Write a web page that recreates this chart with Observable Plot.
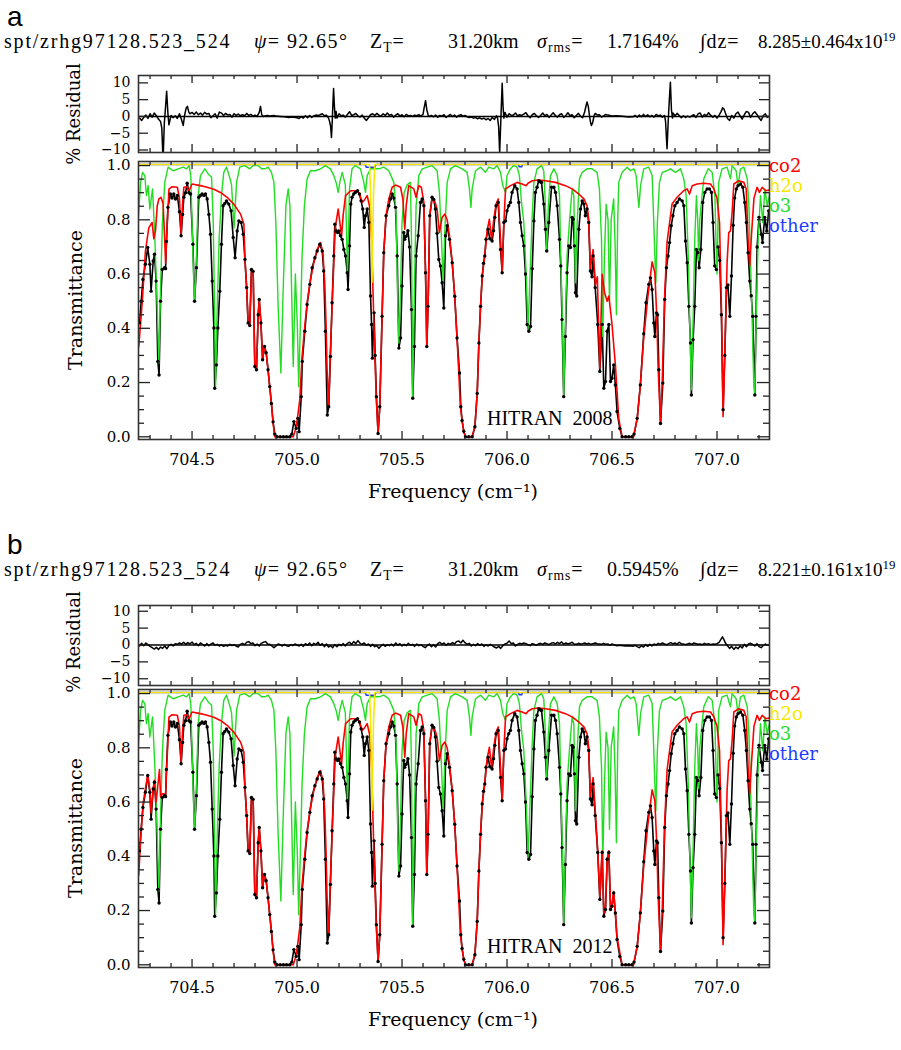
<!DOCTYPE html>
<html><head><meta charset="utf-8">
<script src="https://cdn.jsdelivr.net/npm/d3@7"></script>
<script src="https://cdn.jsdelivr.net/npm/@observablehq/plot@0.6"></script>
<style>
body{margin:0;background:#fff;}
#fig{position:relative;width:901px;height:1050px;overflow:hidden;background:#fff;}
.t{position:absolute;white-space:pre;line-height:1;color:#000;}
.t sub,.t sup{font-size:68%;position:relative;vertical-align:baseline;}
.t sub{top:0.3em;} .t sup{top:-0.55em;}
</style></head>
<body><div id="fig"></div>
<script>
// ---------- data ----------
const xMajor = [704.5, 705.0, 705.5, 706.0, 706.5, 707.0];
const xMinor = [704.3,704.4,704.6,704.7,704.8,704.9,705.1,705.2,705.3,705.4,705.6,705.7,705.8,705.9,706.1,706.2,706.3,706.4,706.6,706.7,706.8,706.9,707.1,707.2];
const tMajor = [0, 0.2, 0.4, 0.6, 0.8, 1.0];
const tMinor = [0.05,0.1,0.15,0.25,0.3,0.35,0.45,0.5,0.55,0.65,0.7,0.75,0.85,0.9,0.95];
const rMajor = [-10, -5, 0, 5, 10];
const legendNames = ["co2", "h2o", "o3", "other"];
const legendColors = ["#ff0000", "#f5e800", "#22dd22", "#1f3dff"];

// co2 transmittance (red)
const co2 = [[704.246,0.33],[704.263,0.50],[704.278,0.685],[704.294,0.77],[704.31,0.79],[704.318,0.73],[704.326,0.76],[704.334,0.85],[704.342,0.877],[704.352,0.883],[704.362,0.86],[704.368,0.76],[704.374,0.64],[704.38,0.75],[704.39,0.913],[704.405,0.922],[704.43,0.92],[704.44,0.88],[704.448,0.747],[704.455,0.86],[704.461,0.92],[704.476,0.922],[704.484,0.905],[704.5,0.932],[704.54,0.926],[704.572,0.92],[704.604,0.913],[704.635,0.901],[704.667,0.883],[704.699,0.858],[704.731,0.821],[704.747,0.784],[704.752,0.654],[704.76,0.55],[704.767,0.42],[704.775,0.41],[704.783,0.617],[704.791,0.61],[704.799,0.259],[704.807,0.247],[704.815,0.45],[704.82,0.506],[704.828,0.42],[704.836,0.284],[704.845,0.333],[704.853,0.31],[704.862,0.247],[704.87,0.185],[704.878,0.123],[704.886,0.049],[704.894,0.0],[704.982,0.0],[704.997,0.037],[705.013,0.136],[705.024,0.296],[705.036,0.40],[705.048,0.494],[705.064,0.58],[705.08,0.642],[705.096,0.691],[705.112,0.716],[705.123,0.679],[705.132,0.568],[705.138,0.42],[705.143,0.25],[705.151,0.111],[705.158,0.3],[705.167,0.481],[705.175,0.64],[705.182,0.77],[705.196,0.84],[705.204,0.79],[705.212,0.74],[705.22,0.82],[705.231,0.889],[705.255,0.907],[705.286,0.907],[705.298,0.895],[705.31,0.864],[705.318,0.87],[705.334,0.889],[705.345,0.852],[705.355,0.728],[705.366,0.42],[705.377,0.148],[705.386,0.012],[705.394,0.111],[705.405,0.444],[705.413,0.679],[705.424,0.815],[705.437,0.877],[705.453,0.92],[705.469,0.928],[705.493,0.92],[705.504,0.877],[705.513,0.765],[705.52,0.852],[705.532,0.926],[705.556,0.914],[705.567,0.883],[705.58,0.926],[705.592,0.92],[705.604,0.864],[705.612,0.605],[705.618,0.333],[705.624,0.481],[705.632,0.815],[705.643,0.877],[705.655,0.87],[705.667,0.84],[705.678,0.753],[705.691,0.809],[705.704,0.821],[705.715,0.80],[705.726,0.741],[705.739,0.642],[705.751,0.518],[705.762,0.364],[705.77,0.24],[705.778,0.111],[705.786,0.06],[705.794,0.02],[705.802,0.0],[705.834,0.0],[705.847,0.037],[705.858,0.16],[705.866,0.346],[705.874,0.481],[705.882,0.593],[705.894,0.667],[705.905,0.759],[705.916,0.802],[705.926,0.728],[705.937,0.802],[705.948,0.858],[705.958,0.877],[705.969,0.728],[705.977,0.605],[705.985,0.79],[705.993,0.914],[706.017,0.926],[706.048,0.938],[706.072,0.932],[706.091,0.926],[706.1,0.935],[706.12,0.944],[706.15,0.947],[706.183,0.944],[706.231,0.938],[706.278,0.926],[706.31,0.914],[706.342,0.895],[706.366,0.877],[706.381,0.852],[706.389,0.80],[706.397,0.62],[706.41,0.69],[706.421,0.56],[706.43,0.59],[706.442,0.253],[706.453,0.599],[706.465,0.53],[706.477,0.5],[706.485,0.519],[706.5,0.414],[706.516,0.265],[706.532,0.068],[706.548,0.0],[706.603,0.0],[706.62,0.068],[706.635,0.191],[706.651,0.364],[706.67,0.512],[706.691,0.645],[706.704,0.605],[706.713,0.444],[706.72,0.247],[706.731,0.049],[706.739,0.198],[706.75,0.506],[706.762,0.716],[706.77,0.765],[706.786,0.858],[706.81,0.883],[706.841,0.907],[706.858,0.914],[706.869,0.895],[706.882,0.926],[706.905,0.932],[706.937,0.935],[706.969,0.932],[706.985,0.914],[707.0,0.88],[707.012,0.79],[707.021,0.481],[707.029,0.074],[707.037,0.296],[707.048,0.642],[707.056,0.753],[707.064,0.759],[707.072,0.827],[707.08,0.932],[707.104,0.944],[707.128,0.938],[707.139,0.914],[707.148,0.728],[707.156,0.63],[707.164,0.741],[707.176,0.88],[707.191,0.92],[707.202,0.901],[707.215,0.92],[707.232,0.907],[707.25,0.91]];

// HITRAN 2012 co2 differs in these stretches
const co2PatchB = [[704.246,0.33],[704.258,0.50],[704.268,0.60],[704.278,0.65],[704.289,0.70],[704.299,0.645],[704.305,0.56],[704.315,0.65],[704.321,0.68],[704.329,0.60],[704.337,0.66],[704.345,0.72],[704.35,0.62],[704.358,0.63],[704.369,0.63],[704.374,0.62],[704.38,0.74],
  [706.432,0.42],[706.442,0.25],[706.453,0.42],[706.461,0.19],[706.469,0.21],[706.477,0.39],[706.485,0.42],[706.493,0.21],[706.5,0.22],[706.508,0.27],[706.516,0.19],[706.524,0.1]];

// o3 transmittance (green)
const o3 = [[704.243,0.79],[704.255,0.938],[704.264,0.975],[704.275,0.963],[704.283,0.889],[704.291,0.926],[704.299,0.84],[704.312,0.914],[704.323,0.728],[704.334,0.481],[704.342,0.272],[704.35,0.543],[704.359,0.79],[704.37,0.938],[704.386,0.994],[704.41,0.981],[704.434,0.988],[704.458,0.994],[704.474,0.988],[704.486,1.0],[704.494,0.963],[704.5,0.79],[704.509,0.543],[704.513,0.506],[704.521,0.667],[704.529,0.889],[704.54,0.963],[704.561,0.988],[704.577,0.969],[704.593,0.957],[704.601,0.79],[704.607,0.481],[704.612,0.185],[704.62,0.481],[704.629,0.728],[704.64,0.889],[704.651,0.975],[704.664,0.994],[704.677,0.963],[704.688,0.93],[704.7,0.77],[704.712,0.938],[704.727,0.994],[704.751,1.0],[704.775,0.988],[704.791,1.0],[704.815,1.0],[704.831,0.988],[704.847,0.988],[704.862,0.994],[704.878,0.975],[704.89,0.938],[704.899,0.79],[704.91,0.481],[704.923,0.235],[704.934,0.543],[704.947,0.852],[704.958,0.914],[704.966,0.852],[704.974,0.543],[704.982,0.259],[704.992,0.60],[705.001,0.42],[705.008,0.185],[705.016,0.42],[705.024,0.667],[705.035,0.852],[705.048,0.951],[705.064,0.981],[705.088,0.981],[705.112,0.988],[705.135,1.0],[705.159,0.988],[705.175,0.963],[705.186,0.938],[705.196,0.901],[705.204,0.94],[705.215,0.975],[705.23,0.93],[705.236,0.75],[705.24,0.605],[705.245,0.75],[705.25,0.914],[705.262,0.988],[705.278,1.0],[705.302,0.988],[705.318,0.938],[705.326,0.901],[705.334,0.963],[705.35,0.988],[705.39,0.988],[705.413,0.994],[705.437,0.981],[705.461,0.938],[705.472,0.815],[705.478,0.543],[705.485,0.346],[705.493,0.543],[705.5,0.79],[705.51,0.90],[705.525,0.93],[705.54,0.938],[705.545,0.728],[705.551,0.148],[705.559,0.543],[705.567,0.852],[705.58,0.963],[705.596,0.988],[705.62,0.994],[705.643,1.0],[705.667,0.981],[705.678,0.901],[705.688,0.728],[705.696,0.568],[705.704,0.765],[705.715,0.938],[705.731,0.988],[705.754,1.0],[705.786,0.988],[705.81,0.975],[705.821,0.914],[705.828,0.846],[705.834,0.914],[705.85,0.981],[705.874,0.994],[705.897,0.975],[705.913,0.994],[705.937,0.988],[705.953,1.0],[705.969,0.975],[705.98,0.926],[705.993,0.901],[706.0,0.963],[706.016,0.988],[706.032,1.0],[706.048,0.994],[706.059,0.963],[706.069,0.864],[706.08,0.79],[706.091,0.605],[706.1,0.395],[706.11,0.605],[706.12,0.815],[706.128,0.938],[706.143,0.988],[706.164,1.0],[706.175,0.981],[706.183,0.852],[706.189,0.691],[706.197,0.852],[706.207,0.963],[706.223,0.988],[706.239,0.963],[706.25,0.889],[706.256,0.667],[706.264,0.42],[706.27,0.148],[706.278,0.42],[706.286,0.667],[706.297,0.79],[706.31,0.914],[706.318,0.889],[706.326,0.568],[706.334,0.79],[706.345,0.951],[706.358,0.975],[706.381,0.988],[706.405,0.988],[706.429,0.975],[706.44,0.914],[706.45,0.728],[706.456,0.37],[706.464,0.667],[706.472,0.858],[706.481,0.80],[706.488,0.50],[706.496,0.80],[706.508,0.877],[706.515,0.70],[706.521,0.45],[706.527,0.79],[706.532,0.938],[706.548,0.975],[706.572,0.994],[706.588,0.981],[706.604,0.988],[706.615,0.963],[706.623,0.889],[706.628,0.846],[706.636,0.926],[706.651,0.988],[706.675,0.994],[706.691,0.963],[706.699,0.79],[706.704,0.667],[706.709,0.568],[706.716,0.79],[706.726,0.938],[706.739,0.975],[706.762,0.981],[706.778,0.988],[706.802,0.975],[706.826,0.988],[706.842,0.951],[706.853,0.889],[706.863,0.667],[706.87,0.42],[706.878,0.173],[706.886,0.42],[706.894,0.728],[706.902,0.889],[706.908,0.80],[706.913,0.65],[706.918,0.80],[706.924,0.852],[706.937,0.951],[706.958,0.988],[706.977,0.975],[706.99,0.889],[706.996,0.70],[707.0,0.60],[707.004,0.75],[707.008,0.938],[707.024,0.988],[707.048,0.994],[707.064,0.951],[707.072,1.0],[707.091,0.981],[707.1,0.926],[707.112,0.988],[707.128,0.994],[707.144,0.951],[707.152,0.852],[707.159,0.667],[707.167,0.444],[707.175,0.198],[707.18,0.16],[707.186,0.42],[707.196,0.728],[707.207,0.889],[707.218,0.79],[707.228,0.914],[707.239,0.852],[707.25,0.889]];

// h2o (yellow) and other (blue)
const h2o = [[704.245,1.004],[705.345,1.004],[705.351,0.89],[705.357,0.57],[705.364,0.89],[705.37,1.004],[707.25,1.004]];
const other = [[704.245,1.004],[705.325,1.004],[705.33,0.994],[705.37,0.994],[705.375,1.004],[706.055,1.004],[706.058,0.996],[706.07,0.996],[706.073,1.004],[707.25,1.004]];

// measured spectrum (black)
const obs = [[704.25,0.42],[704.258,0.5],[704.266,0.58],[704.278,0.636],[704.289,0.698],[704.299,0.636],[704.305,0.537],[704.315,0.648],[704.321,0.673],[704.329,0.574],[704.337,0.278],[704.343,0.228],[704.35,0.50],[704.358,0.617],[704.369,0.623],[704.374,0.62],[704.378,0.72],[704.385,0.846],[704.397,0.895],[704.405,0.88],[704.413,0.895],[704.421,0.877],[704.43,0.89],[704.44,0.83],[704.448,0.741],[704.455,0.82],[704.461,0.883],[704.469,0.90],[704.477,0.935],[704.485,0.90],[704.493,0.895],[704.504,0.71],[704.512,0.5],[704.521,0.623],[704.532,0.883],[704.54,0.89],[704.548,0.895],[704.556,0.89],[704.564,0.895],[704.572,0.877],[704.58,0.82],[704.588,0.747],[704.596,0.574],[704.604,0.401],[704.608,0.179],[704.616,0.265],[704.623,0.401],[704.632,0.537],[704.64,0.71],[704.648,0.852],[704.656,0.86],[704.664,0.87],[704.675,0.858],[704.686,0.833],[704.696,0.735],[704.705,0.66],[704.715,0.759],[704.723,0.796],[704.734,0.79],[704.744,0.747],[704.752,0.654],[704.76,0.55],[704.767,0.42],[704.775,0.41],[704.783,0.617],[704.791,0.61],[704.799,0.259],[704.807,0.247],[704.815,0.45],[704.82,0.506],[704.828,0.42],[704.836,0.284],[704.845,0.333],[704.853,0.31],[704.862,0.247],[704.87,0.185],[704.878,0.123],[704.886,0.055],[704.894,0.01],[704.905,0.0],[704.92,0.0],[704.935,0.0],[704.95,0.0],[704.965,0.0],[704.975,0.01],[704.985,0.056],[704.996,0.031],[705.004,0.068],[705.01,0.019],[705.02,0.148],[705.025,0.278],[705.037,0.389],[705.048,0.488],[705.061,0.562],[705.072,0.623],[705.085,0.66],[705.096,0.685],[705.108,0.71],[705.12,0.685],[705.127,0.611],[705.135,0.389],[705.144,0.08],[705.151,0.111],[705.159,0.296],[705.167,0.494],[705.175,0.667],[705.18,0.784],[705.186,0.759],[705.193,0.753],[705.199,0.759],[705.207,0.741],[705.215,0.728],[705.223,0.691],[705.231,0.667],[705.239,0.605],[705.243,0.543],[705.25,0.704],[705.256,0.858],[705.262,0.883],[705.27,0.895],[705.278,0.901],[705.288,0.907],[705.297,0.895],[705.305,0.87],[705.313,0.84],[705.32,0.772],[705.326,0.815],[705.334,0.84],[705.342,0.79],[705.35,0.519],[705.355,0.414],[705.359,0.29],[705.367,0.457],[705.372,0.30],[705.378,0.148],[705.386,0.012],[705.394,0.111],[705.405,0.444],[705.413,0.679],[705.424,0.815],[705.437,0.852],[705.445,0.877],[705.453,0.895],[705.461,0.88],[705.469,0.846],[705.477,0.667],[705.485,0.327],[705.493,0.364],[705.5,0.556],[705.508,0.753],[705.513,0.728],[705.52,0.74],[705.528,0.76],[705.536,0.70],[705.545,0.469],[705.551,0.142],[705.559,0.333],[705.567,0.667],[705.577,0.741],[705.588,0.864],[705.596,0.877],[705.604,0.852],[705.612,0.605],[705.618,0.333],[705.624,0.481],[705.632,0.815],[705.643,0.883],[705.651,0.875],[705.659,0.84],[705.667,0.75],[705.675,0.654],[705.683,0.63],[705.691,0.568],[705.699,0.475],[705.707,0.741],[705.715,0.778],[705.726,0.728],[705.739,0.642],[705.751,0.518],[705.762,0.364],[705.774,0.235],[705.78,0.111],[705.786,0.06],[705.794,0.02],[705.802,0.0],[705.818,0.0],[705.834,0.0],[705.847,0.037],[705.858,0.16],[705.866,0.346],[705.874,0.481],[705.882,0.593],[705.888,0.64],[705.894,0.667],[705.9,0.728],[705.91,0.765],[705.918,0.73],[705.929,0.722],[705.936,0.76],[705.942,0.809],[705.948,0.852],[705.958,0.864],[705.969,0.691],[705.977,0.605],[705.985,0.79],[705.993,0.796],[706.0,0.833],[706.008,0.852],[706.016,0.864],[706.024,0.901],[706.037,0.926],[706.048,0.914],[706.056,0.864],[706.064,0.79],[706.072,0.741],[706.08,0.704],[706.088,0.60],[706.096,0.414],[706.104,0.389],[706.112,0.407],[706.12,0.62],[706.128,0.796],[706.135,0.901],[706.143,0.92],[706.151,0.944],[706.158,0.94],[706.164,0.938],[706.175,0.858],[706.183,0.765],[706.189,0.685],[706.199,0.79],[706.212,0.92],[706.223,0.92],[706.231,0.901],[706.239,0.852],[706.25,0.728],[706.256,0.63],[706.262,0.432],[706.27,0.148],[706.278,0.37],[706.286,0.605],[706.294,0.704],[706.302,0.698],[706.31,0.809],[706.315,0.802],[706.321,0.704],[706.326,0.531],[706.332,0.519],[706.342,0.765],[706.35,0.84],[706.358,0.87],[706.366,0.858],[706.373,0.815],[706.381,0.84],[706.389,0.79],[706.397,0.611],[706.405,0.59],[706.41,0.667],[706.42,0.55],[706.432,0.414],[706.442,0.241],[706.453,0.414],[706.461,0.179],[706.469,0.204],[706.477,0.389],[706.485,0.414],[706.493,0.204],[706.5,0.216],[706.508,0.265],[706.516,0.191],[706.524,0.093],[706.537,0.031],[706.548,0.0],[706.565,0.0],[706.58,0.0],[706.595,0.0],[706.605,0.01],[706.62,0.068],[706.635,0.191],[706.651,0.38],[706.662,0.494],[706.675,0.562],[706.683,0.586],[706.691,0.543],[706.699,0.42],[706.704,0.37],[706.712,0.457],[706.717,0.45],[706.723,0.247],[706.731,0.049],[706.742,0.198],[706.751,0.506],[706.759,0.623],[706.767,0.667],[706.774,0.716],[706.782,0.778],[706.79,0.815],[706.799,0.852],[706.81,0.864],[706.821,0.877],[706.834,0.87],[706.842,0.852],[706.85,0.722],[706.858,0.642],[706.866,0.481],[706.874,0.346],[706.878,0.154],[706.886,0.358],[706.894,0.481],[706.902,0.691],[706.909,0.679],[706.915,0.623],[706.923,0.691],[706.932,0.864],[706.942,0.901],[706.953,0.914],[706.964,0.914],[706.974,0.901],[706.981,0.79],[706.989,0.63],[706.997,0.617],[707.005,0.70],[707.013,0.65],[707.021,0.45],[707.029,0.10],[707.037,0.30],[707.045,0.55],[707.052,0.56],[707.061,0.444],[707.069,0.593],[707.077,0.78],[707.084,0.88],[707.092,0.914],[707.1,0.926],[707.112,0.932],[707.123,0.92],[707.132,0.864],[707.14,0.79],[707.148,0.679],[707.156,0.574],[707.163,0.52],[707.17,0.444],[707.18,0.154],[707.186,0.444],[707.191,0.70],[707.2,0.809],[707.211,0.747],[707.217,0.716],[707.227,0.809],[707.237,0.759],[707.246,0.833]];

// residuals (%), HITRAN 2008
const residA = [[704.25,-0.5],[704.26,-1.2],[704.27,-0.3],[704.28,0.4],[704.29,-0.6],[704.30,0.8],[704.31,-0.2],[704.32,1.0],[704.33,0.2],[704.34,-0.8],[704.35,-1.5],[704.356,-3.5],[704.362,-13],[704.368,-2],[704.374,3],[704.379,7.5],[704.385,1],[704.39,-2.5],[704.40,0.3],[704.41,-0.4],[704.42,0.2],[704.43,-0.6],[704.44,0.8],[704.45,-1.0],[704.458,-2.7],[704.465,0.5],[704.472,2.5],[704.478,3.0],[704.485,1.2],[704.49,0.8],[704.50,1.2],[704.51,0.6],[704.52,1.3],[704.53,0.5],[704.54,1.0],[704.55,0.4],[704.56,1.2],[704.57,0.7],[704.58,0.9],[704.59,-0.4],[704.60,0.2],[704.61,0.8],[704.62,-0.5],[704.63,1.3],[704.64,1.0],[704.65,0.3],[704.66,0.9],[704.67,0.4],[704.68,0.6],[704.69,-0.2],[704.70,0.8],[704.71,0.3],[704.72,0.7],[704.73,0.2],[704.74,0.5],[704.75,0.2],[704.76,0.9],[704.77,0.3],[704.78,0.6],[704.79,0.1],[704.80,0.4],[704.81,0.0],[704.82,1.2],[704.826,3.0],[704.832,0.5],[704.84,0.0],[704.85,0.2],[704.86,0.3],[704.87,0.1],[704.88,0.2],[704.89,0.3],[704.90,0.1],[704.92,0.0],[704.94,-0.1],[704.96,-0.3],[704.98,-0.2],[705.00,-0.4],[705.01,-0.6],[705.02,-0.1],[705.03,-0.5],[705.04,0.2],[705.05,-0.4],[705.06,0.3],[705.07,-0.3],[705.08,0.2],[705.09,0.4],[705.10,0.3],[705.11,0.5],[705.12,0.8],[705.13,0.2],[705.14,0.4],[705.15,-0.5],[705.155,-1.5],[705.16,-3.0],[705.164,-6.3],[705.168,-1],[705.171,4],[705.174,8.3],[705.178,3],[705.182,-0.5],[705.186,1.5],[705.19,-0.5],[705.20,0.8],[705.21,0.2],[705.22,0.4],[705.23,-0.2],[705.24,0.6],[705.25,1.4],[705.26,0.3],[705.27,0.5],[705.28,0.9],[705.29,0.2],[705.30,-0.2],[705.31,0.4],[705.32,-0.5],[705.33,-1.2],[705.34,-0.4],[705.35,0.5],[705.36,0.8],[705.37,0.3],[705.38,0.9],[705.39,0.4],[705.40,0.1],[705.41,0.8],[705.42,0.3],[705.43,1.0],[705.44,0.3],[705.45,0.6],[705.46,-0.2],[705.47,0.4],[705.48,0.8],[705.49,0.1],[705.50,0.5],[705.51,-0.1],[705.52,0.6],[705.53,0.2],[705.54,0.3],[705.55,0.0],[705.56,0.4],[705.57,0.2],[705.58,0.5],[705.59,0.1],[705.60,0.6],[705.605,2.5],[705.612,4.7],[705.618,2.0],[705.625,0.2],[705.63,0.0],[705.64,0.3],[705.65,-0.1],[705.66,0.4],[705.67,-0.2],[705.68,0.3],[705.69,0.1],[705.70,0.5],[705.71,-0.3],[705.72,0.2],[705.73,0.6],[705.74,0.0],[705.75,0.4],[705.76,-0.2],[705.77,0.3],[705.78,0.5],[705.79,0.1],[705.80,0.3],[705.81,-0.1],[705.82,-0.3],[705.83,-0.2],[705.84,-0.5],[705.85,-0.3],[705.86,-0.7],[705.87,-0.4],[705.88,-0.8],[705.89,-0.5],[705.90,-1.0],[705.91,-0.6],[705.92,-1.2],[705.93,-0.3],[705.94,-0.9],[705.95,0.2],[705.955,-0.5],[705.96,-3],[705.965,-10.8],[705.97,-2],[705.974,5],[705.977,9.9],[705.981,3],[705.985,-0.5],[705.99,1.2],[706.00,-0.2],[706.01,0.8],[706.02,0.3],[706.03,0.4],[706.04,1.0],[706.05,0.2],[706.06,0.5],[706.07,0.3],[706.08,0.7],[706.09,1.1],[706.10,0.2],[706.11,-0.4],[706.12,0.5],[706.13,0.9],[706.14,0.2],[706.15,-0.3],[706.16,0.3],[706.17,1.0],[706.18,0.2],[706.19,0.6],[706.20,-0.3],[706.21,0.4],[706.22,1.1],[706.23,0.3],[706.24,-0.2],[706.25,0.5],[706.26,0.8],[706.27,-0.3],[706.28,0.3],[706.29,1.1],[706.30,0.2],[706.31,0.5],[706.32,-0.4],[706.33,0.3],[706.34,0.9],[706.35,0.1],[706.36,-0.4],[706.37,1.4],[706.375,2.8],[706.381,4.3],[706.387,3.0],[706.392,0.5],[706.397,-1.5],[706.402,-2.7],[706.408,-1.8],[706.415,0.3],[706.42,0.9],[706.43,0.4],[706.44,0.5],[706.45,-0.2],[706.46,0.2],[706.47,0.6],[706.48,0.4],[706.49,0.3],[706.50,0.1],[706.52,0.2],[706.54,0.1],[706.56,0.0],[706.58,-0.2],[706.60,-0.1],[706.61,0.3],[706.62,-0.2],[706.63,0.4],[706.64,-0.1],[706.65,0.6],[706.66,0.0],[706.67,0.5],[706.68,-0.1],[706.69,0.3],[706.70,-0.2],[706.71,0.6],[706.72,0.2],[706.73,0.4],[706.74,-0.2],[706.75,0.3],[706.755,-1.5],[706.762,-9.6],[706.768,-1],[706.773,5],[706.778,10.2],[706.783,2],[706.788,-0.5],[706.79,1.0],[706.80,0.2],[706.81,0.9],[706.82,0.3],[706.83,-0.4],[706.84,0.2],[706.85,-0.3],[706.86,0.1],[706.87,-0.2],[706.88,0.2],[706.89,0.5],[706.90,-0.3],[706.91,0.8],[706.92,1.0],[706.93,-0.2],[706.94,0.6],[706.95,0.2],[706.96,1.1],[706.97,0.3],[706.98,-0.2],[706.99,0.3],[707.00,-0.5],[707.01,0.4],[707.02,1.5],[707.027,2.6],[707.033,2.2],[707.04,1.0],[707.05,-0.6],[707.06,-1.2],[707.07,0.3],[707.08,-0.5],[707.09,0.8],[707.10,1.3],[707.11,0.2],[707.12,-0.8],[707.13,0.5],[707.14,1.5],[707.15,1.2],[707.16,-0.3],[707.17,0.8],[707.18,1.4],[707.19,0.6],[707.20,-0.4],[707.21,-1.2],[707.22,0.2],[707.23,0.8],[707.24,-0.3],[707.25,0.2]];

// residuals (%), HITRAN 2012
const residB = [[704.25,-0.3],[704.26,0.5],[704.27,-0.2],[704.28,0.6],[704.29,0.1],[704.30,-0.4],[704.31,-0.8],[704.32,-1.2],[704.33,-0.7],[704.34,-1.3],[704.35,-0.6],[704.36,-1.0],[704.37,-0.3],[704.38,-1.1],[704.39,-0.2],[704.40,0.2],[704.41,-0.3],[704.42,0.4],[704.43,0.2],[704.44,0.6],[704.45,0.3],[704.46,0.8],[704.47,0.2],[704.48,0.7],[704.49,0.3],[704.50,0.9],[704.51,0.1],[704.52,0.5],[704.53,-0.2],[704.54,0.6],[704.55,0.2],[704.56,-0.3],[704.57,0.4],[704.58,-0.2],[704.59,0.3],[704.60,0.6],[704.61,-0.1],[704.62,0.2],[704.63,-0.3],[704.64,0.1],[704.65,-0.4],[704.66,-0.1],[704.67,-0.3],[704.68,0.2],[704.69,-0.2],[704.70,0.1],[704.71,-0.3],[704.72,-0.6],[704.73,0.2],[704.74,0.5],[704.75,0.1],[704.76,0.8],[704.77,1.0],[704.78,0.4],[704.79,0.6],[704.80,-0.2],[704.81,0.3],[704.82,-0.3],[704.83,0.5],[704.84,0.8],[704.85,1.0],[704.86,0.3],[704.87,0.2],[704.88,-0.3],[704.89,-0.8],[704.90,-0.3],[704.91,0.3],[704.92,0.1],[704.93,-0.3],[704.94,0.2],[704.95,-0.2],[704.96,-0.4],[704.97,0.1],[704.98,-0.2],[704.99,0.3],[705.00,0.0],[705.01,-0.3],[705.02,0.2],[705.03,-0.4],[705.04,0.4],[705.05,-0.1],[705.06,0.6],[705.07,-0.2],[705.08,0.5],[705.09,0.1],[705.10,0.8],[705.11,-0.1],[705.12,0.4],[705.13,-0.5],[705.14,0.3],[705.15,-0.6],[705.16,-0.2],[705.17,-0.8],[705.18,0.1],[705.19,-0.5],[705.20,0.2],[705.21,-0.2],[705.22,0.4],[705.23,-0.3],[705.24,0.5],[705.25,0.8],[705.26,0.2],[705.27,1.0],[705.28,0.4],[705.29,1.3],[705.30,0.5],[705.31,0.2],[705.32,0.6],[705.33,-0.1],[705.34,0.3],[705.35,-0.4],[705.36,0.2],[705.37,-0.5],[705.38,-0.2],[705.39,-1.0],[705.40,-0.3],[705.41,0.2],[705.42,-0.4],[705.43,0.1],[705.44,-0.2],[705.45,0.3],[705.46,-0.3],[705.47,0.6],[705.48,-0.1],[705.49,0.4],[705.50,-0.3],[705.51,0.2],[705.52,-0.2],[705.53,0.5],[705.54,-0.1],[705.55,0.2],[705.56,-0.4],[705.57,0.3],[705.58,-0.2],[705.59,0.1],[705.60,-0.4],[705.61,-0.8],[705.62,-0.2],[705.63,0.3],[705.64,-0.5],[705.65,0.1],[705.66,-0.6],[705.67,0.4],[705.68,0.8],[705.69,0.2],[705.70,0.6],[705.71,-0.1],[705.72,0.5],[705.73,0.2],[705.74,0.7],[705.75,0.3],[705.76,1.0],[705.77,1.2],[705.78,0.6],[705.79,1.4],[705.80,0.7],[705.81,0.2],[705.82,0.5],[705.83,-0.3],[705.84,0.2],[705.85,-0.2],[705.86,0.4],[705.87,-0.1],[705.88,0.3],[705.89,-0.4],[705.90,0.1],[705.91,-0.3],[705.92,0.2],[705.93,-0.2],[705.94,-0.6],[705.95,-0.9],[705.96,-0.4],[705.97,-1.0],[705.98,-0.2],[705.99,0.3],[706.00,0.5],[706.01,1.2],[706.02,0.4],[706.03,0.6],[706.04,-0.3],[706.05,0.2],[706.06,0.5],[706.07,0.3],[706.08,0.6],[706.09,0.4],[706.10,0.1],[706.11,-0.2],[706.12,0.4],[706.13,0.2],[706.14,-0.1],[706.15,0.3],[706.16,0.5],[706.17,0.2],[706.18,0.6],[706.19,0.4],[706.20,0.1],[706.21,0.5],[706.22,0.7],[706.23,0.3],[706.24,0.8],[706.25,0.4],[706.26,0.9],[706.27,0.2],[706.28,0.6],[706.29,0.3],[706.30,0.5],[706.31,0.8],[706.32,0.3],[706.33,0.2],[706.34,0.5],[706.35,0.3],[706.36,0.4],[706.37,0.6],[706.38,0.3],[706.39,0.5],[706.40,0.2],[706.41,0.4],[706.42,0.6],[706.43,0.4],[706.44,0.3],[706.45,0.2],[706.46,0.5],[706.47,0.2],[706.48,0.3],[706.49,-0.1],[706.50,0.3],[706.52,-0.2],[706.54,-0.1],[706.56,-0.3],[706.58,-0.2],[706.60,-0.4],[706.61,-0.1],[706.62,-0.5],[706.63,-0.8],[706.64,-0.2],[706.65,-0.6],[706.66,0.1],[706.67,-0.4],[706.68,0.2],[706.69,-0.3],[706.70,0.3],[706.71,0.0],[706.72,0.5],[706.73,0.2],[706.74,0.6],[706.75,0.3],[706.76,0.1],[706.77,0.4],[706.78,0.7],[706.79,0.3],[706.80,0.6],[706.81,0.2],[706.82,0.8],[706.83,0.4],[706.84,0.3],[706.85,0.1],[706.86,0.3],[706.87,0.5],[706.88,0.2],[706.89,0.6],[706.90,0.4],[706.91,0.2],[706.92,0.3],[706.93,0.1],[706.94,0.5],[706.95,0.2],[706.96,0.4],[706.97,0.1],[706.98,0.3],[706.99,0.2],[707.00,0.4],[707.01,0.8],[707.02,1.8],[707.026,2.4],[707.033,1.6],[707.04,0.6],[707.05,-0.2],[707.06,-1.0],[707.07,-0.4],[707.08,-1.3],[707.09,-0.6],[707.10,-1.1],[707.11,-0.3],[707.12,-0.9],[707.13,0.2],[707.14,-0.5],[707.15,0.3],[707.16,0.5],[707.17,0.2],[707.18,-0.3],[707.19,0.4],[707.20,-0.5],[707.21,-0.8],[707.22,-0.2],[707.23,0.3],[707.24,-0.1],[707.25,0.2]];

const panels = [
  {label:"a", hitran:"HITRAN  2008", rms:"1.7164%", col:"8.285±0.464x10", resid:residA, off:0,   resDomain:[-10.75,12.2]},
  {label:"b", hitran:"HITRAN  2012", rms:"0.5945%", col:"8.221±0.161x10", resid:residB, off:528, resDomain:[-12,11.7]}
];

// ---------- drawing ----------
const fig = document.getElementById("fig");
const W = 901, ML = 138, MR = 132, FW = W - ML - MR;
const xDomain = [704.245, 707.25];
const fx = d => d[0], fy = d => d[1];
const inPatch = f => (f > 704.244 && f < 704.385) || (f > 706.425 && f < 706.53);
const co2B = d3.sort(co2.filter(d => !inPatch(d[0])).concat(co2PatchB), d => d[0]);

function text(html, x, base, size, family, color, extra) {
  const el = document.createElement("div");
  el.className = "t";
  el.innerHTML = html;
  el.style.left = x + "px";
  el.style.top = (base - 0.845 * size) + "px";
  el.style.fontSize = size + "px";
  el.style.fontFamily = family;
  if (color) el.style.color = color;
  if (extra) Object.assign(el.style, extra);
  fig.appendChild(el);
  return el;
}
function vtext(s, cx, cy, size) {
  const el = document.createElement("div");
  el.className = "t";
  el.textContent = s;
  el.style.left = cx + "px";
  el.style.top = cy + "px";
  el.style.fontSize = size + "px";
  el.style.fontFamily = "DejaVu Serif";
  el.style.transform = "translate(-50%,-50%) rotate(-90deg)";
  fig.appendChild(el);
}

function framed({top, height, mt, mb, yDomain, yMaj, yMin, yMajLen, yMinLen, yFmt, yFont, xLabels, marks}) {
  const fh = height - mt - mb;
  const tick = {stroke: "#222", strokeWidth: 1.3};
  const m = [...marks,
    Plot.tickX(xMinor, {x: d => d, insetTop: fh - 4, ...tick}),
    Plot.tickX(xMinor, {x: d => d, insetBottom: fh - 4, ...tick}),
    Plot.tickX(xMajor, {x: d => d, insetTop: fh - 8, ...tick}),
    Plot.tickX(xMajor, {x: d => d, insetBottom: fh - 8, ...tick}),
    Plot.tickY(yMaj, {y: d => d, insetRight: FW - yMajLen, ...tick}),
    Plot.tickY(yMaj, {y: d => d, insetLeft: FW - yMajLen, ...tick}),
    Plot.tickY(yMin, {y: d => d, insetRight: FW - yMinLen, ...tick}),
    Plot.tickY(yMin, {y: d => d, insetLeft: FW - yMinLen, ...tick}),
    Plot.frame({stroke: "#333", strokeWidth: 1.6}),
    Plot.axisY(yMaj, {anchor: "left", tickSize: 0, tickPadding: 8, tickFormat: yFmt, label: null, fontSize: yFont})
  ];
  if (xLabels) m.push(Plot.axisX(xMajor, {anchor: "bottom", tickSize: 0, tickPadding: 14, tickFormat: d3.format(".1f"), label: null}));
  const svg = Plot.plot({
    width: W, height, marginLeft: ML, marginRight: MR, marginTop: mt, marginBottom: mb,
    x: {domain: xDomain, axis: null},
    y: {domain: yDomain, axis: null},
    style: {fontFamily: "DejaVu Serif", fontSize: "16px", background: "transparent", color: "#000", overflow: "visible"},
    marks: m
  });
  svg.style.position = "absolute";
  svg.style.left = "0px";
  svg.style.top = top + "px";
  fig.appendChild(svg);
}

for (const p of panels) {
  const o = p.off;
  const co2P = p.label === "a" ? co2 : co2B;
  // panel letter and header
  text(p.label, 7, 27 + o, 28, "Liberation Sans");
  const hf = "Liberation Serif", hs = 20;
  const hb = 48 + o;
  text("spt/zrhg97128.523_524", 4, hb, hs, hf, null, {letterSpacing: "1.8px"});
  text("<i>ψ</i>= 92.65°", 254, hb, hs, hf, null, {letterSpacing: "1.4px"});
  text("Z<sub>T</sub>=", 370, hb, hs, hf, null, {letterSpacing: "1px"});
  text("31.20km", 448, hb, hs, hf);
  text("<i>σ</i><sub>rms</sub>=", 537, hb, hs, hf, null, {letterSpacing: "1px"});
  text(p.rms, 607, hb, hs, hf);
  text("∫dz=", 700, hb, hs, hf, null, {letterSpacing: "1px"});
  text(p.col + "<sup>19</sup>", 758, hb, 19, hf);

  // residual panel
  framed({top: 65 + o, height: 100, mt: 10 + (o ? 2 : 0), mb: o ? 8 : 13,
    yDomain: p.resDomain, yMaj: rMajor, yMin: [], yMajLen: 10, yMinLen: 5, yFmt: d3.format("d"), yFont: 14, xLabels: false,
    marks: [
      Plot.ruleY([0], {stroke: "#000", strokeWidth: 1.5}),
      Plot.line(d3.sort(p.resid, fx), {x: fx, y: fy, stroke: "#000", strokeWidth: 1.5, clip: true})
    ]});

  // transmittance panel
  framed({top: 150 + o, height: 340, mt: 11, mb: 51,
    yDomain: [-0.01, 1.015], yMaj: tMajor, yMin: tMinor, yMajLen: 12, yMinLen: 6, yFmt: d3.format(".1f"), yFont: 15, xLabels: true,
    marks: [
      Plot.line(obs, {x: fx, y: fy, stroke: "#000", strokeWidth: 1.6, clip: true}),
      Plot.line(o3, {x: fx, y: fy, stroke: legendColors[2], strokeWidth: 1.4, clip: true}),
      Plot.line(co2P, {x: fx, y: fy, stroke: legendColors[0], strokeWidth: 1.6, clip: true}),
      Plot.line(other, {x: fx, y: fy, stroke: legendColors[3], strokeWidth: 1.6, clip: true}),
      Plot.line(h2o, {x: fx, y: fy, stroke: legendColors[1], strokeWidth: 1.6, clip: true}),
      Plot.dot(obs, {x: fx, y: fy, r: 1.7, fill: "#000", stroke: null, clip: true})
    ]});

  // axis titles
  vtext("% Residual", 74, 114 + o, 18);
  vtext("Transmittance", 75, 300 + o, 19);
  const fr = text("Frequency (cm⁻¹)", 453, 498 + o, 19, "DejaVu Serif");
  fr.style.transform = "translateX(-50%)";
  text(p.hitran, 487, 425 + o, 20, "Liberation Serif");

  // legend
  legendNames.forEach((n, i) => text(n, 769, 172 + 20 * i + o, 18, "DejaVu Serif", legendColors[i]));
}
</script>
</body></html>
